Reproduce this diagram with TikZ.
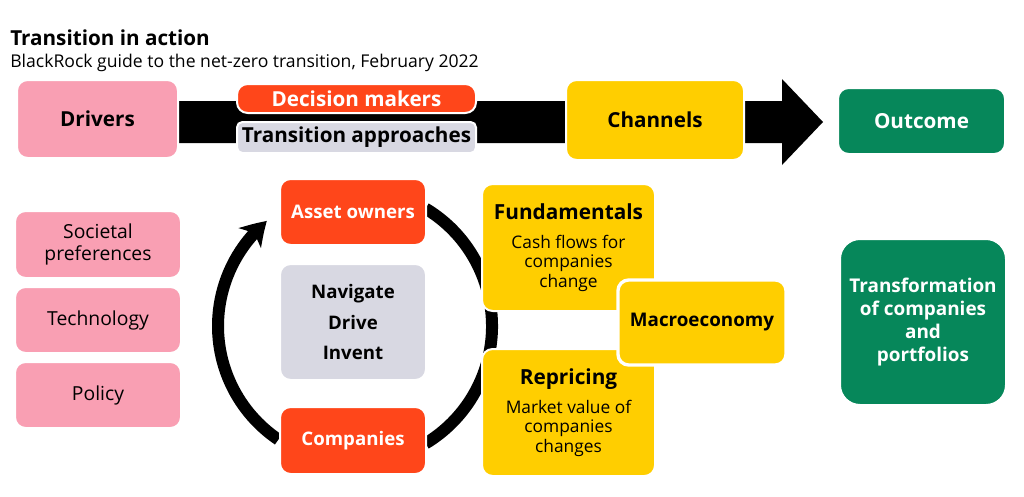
\documentclass[tikz,border=0pt]{standalone}
\usepackage{fontspec}
\setmainfont{Open Sans}
\usetikzlibrary{arrows.meta, bending}

\definecolor{brpink}{HTML}{F99FB3}
\definecolor{brred}{HTML}{FF461A}
\definecolor{brgrey}{HTML}{D8D8E2}
\definecolor{bryellow}{HTML}{FFCE00}
\definecolor{brgreen}{HTML}{06875A}

\tikzset{
  card/.style={rounded corners=8pt, draw=white, line width=1.5pt, align=center, inner sep=0pt},
  big/.style={font=\fontsize{15.5}{18}\selectfont\bfseries},
  mid/.style={font=\fontsize{14}{17}\selectfont\bfseries},
  body/.style={font=\fontsize{13}{14.6}\selectfont},
  pinkbody/.style={font=\fontsize{14.5}{16.5}\selectfont},
  loop/.style={line width=9pt, black}
}

\begin{document}
\begin{tikzpicture}[x=0.75pt, y=-0.75pt]
  \useasboundingbox (0,0) rectangle (1024,496);

  % 标题
  \node[anchor=base west, inner sep=0pt, font=\fontsize{15.5}{18}\selectfont\bfseries] (title) at (10,45) {Transition in action};
  \node[anchor=base west, inner sep=0pt, font=\fontsize{13.2}{15}\selectfont] (sub) at (10,67) {BlackRock guide to the net-zero transition, February 2022};

  % 大箭头
  \fill[black] (170,101) -- (782,101) -- (782,79) -- (823,122) -- (782,165) -- (782,143) -- (170,143) -- cycle;

  % 上排
  \node[card, big, fill=brpink, minimum width=120.75pt, minimum height=58.5pt] (drivers) at (97.5,119) {Drivers};
  \node[card, big, fill=brred, text=white, minimum width=179.25pt, minimum height=21.75pt] (makers) at (356.5,98.5) {Decision makers};
  \node[card, big, fill=brgrey, minimum width=179.25pt, minimum height=23.25pt, rounded corners=4pt] (approach) at (356.5,137.5) {Transition approaches};
  \node[card, big, fill=bryellow, minimum width=133.5pt, minimum height=60pt] (channels) at (655,120) {Channels};
  \node[card, big, fill=brgreen, text=white, minimum width=125.25pt, minimum height=49.5pt] (outcome) at (921.5,121) {Outcome};

  % 驱动因素
  \node[card, pinkbody, fill=brpink, minimum width=124.5pt, minimum height=50.25pt] (society) at (98,244.5) {Societal\\preferences};
  \node[card, pinkbody, fill=brpink, minimum width=124.5pt, minimum height=49.5pt] (tech) at (98,320) {Technology};
  \node[card, pinkbody, fill=brpink, minimum width=124.5pt, minimum height=49.5pt] (policy) at (98,395) {Policy};

  % 循环
  \coordinate (hub) at (355,326);
  \draw[loop] (hub) ++(-59:137) arc[start angle=-59, end angle=59, radius=137];
  \draw[loop, -{Stealth[length=18pt, width=22pt, inset=5pt, bend]}] (hub) ++(124:137) arc[start angle=124, end angle=230, radius=137];

  \node[card, mid, fill=brred, text=white, minimum width=109.5pt, minimum height=49.5pt] (owners) at (353,212) {Asset owners};
  \node[card, fill=brgrey, minimum width=109.5pt, minimum height=87pt, font=\fontsize{14}{23}\selectfont\bfseries] (verbs) at (353,322) {Navigate\\Drive\\Invent};
  \node[card, mid, fill=brred, text=white, minimum width=109.5pt, minimum height=50.25pt] (companies) at (353,440.5) {Companies};

  % 渠道
  \node[card, body, fill=bryellow, minimum width=129.75pt, minimum height=95.25pt] (fund) at (568.5,247.5)
    {{\fontsize{15.6}{17}\selectfont\bfseries Fundamentals}\\[7pt]Cash flows for\\companies\\change};
  \node[card, body, fill=bryellow, minimum width=129.75pt, minimum height=95.25pt] (reprice) at (568.5,412.5)
    {{\fontsize{15.6}{17}\selectfont\bfseries Repricing}\\[7pt]Market value of\\companies\\changes};
  \node[card, fill=bryellow, minimum width=126pt, minimum height=63.75pt, line width=2.5pt, font=\fontsize{14.1}{17}\selectfont\bfseries] (macro) at (702,322.5) {Macroeconomy};

  % 结果
  \node[card, fill=brgreen, text=white, rounded corners=15pt, minimum width=124.5pt, minimum height=124.5pt, font=\fontsize{14.2}{17.2}\selectfont\bfseries] (transform) at (923,322) {Transformation\\of companies\\and\\portfolios};
\end{tikzpicture}
\end{document}
